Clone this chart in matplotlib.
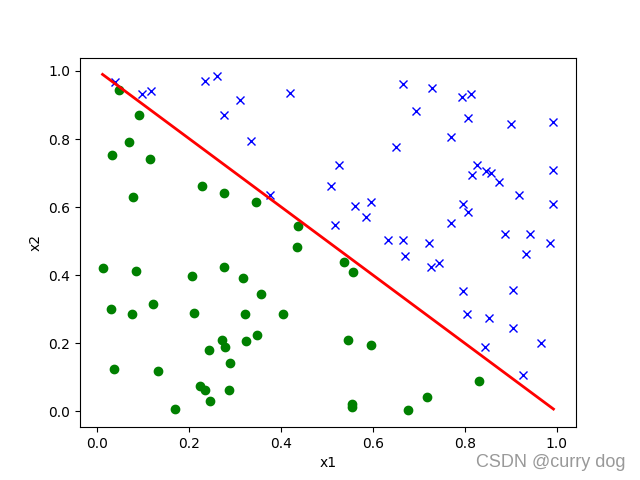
import matplotlib
matplotlib.use("Agg")
from matplotlib import pyplot as plt

# class 1 (blue crosses)
pos_x1 = [0.040, 0.097, 0.117, 0.234, 0.260, 0.310, 0.276, 0.336, 0.419, 0.665,
          0.376, 0.651, 0.527, 0.508, 0.562, 0.597, 0.586, 0.517, 0.634, 0.665,
          0.729, 0.795, 0.813, 0.695, 0.808, 0.900, 0.993, 0.771, 0.826, 0.816,
          0.847, 0.858, 0.875, 0.993, 0.919, 0.797, 0.806, 0.993, 0.771, 0.887,
          0.941, 0.986, 0.723, 0.934, 0.727, 0.743, 0.797, 0.906, 0.804, 0.853,
          0.906, 0.965, 0.845, 0.927, 0.669]
pos_x2 = [0.967, 0.933, 0.940, 0.970, 0.984, 0.914, 0.870, 0.795, 0.935, 0.962,
          0.635, 0.776, 0.723, 0.662, 0.603, 0.615, 0.571, 0.548, 0.504, 0.504,
          0.949, 0.923, 0.933, 0.882, 0.861, 0.845, 0.850, 0.807, 0.725, 0.694,
          0.706, 0.699, 0.675, 0.708, 0.635, 0.610, 0.586, 0.610, 0.554, 0.521,
          0.521, 0.493, 0.495, 0.462, 0.424, 0.435, 0.353, 0.357, 0.284, 0.274,
          0.243, 0.201, 0.187, 0.106, 0.455]

# class 0 (green dots)
neg_x1 = [0.047, 0.091, 0.069, 0.032, 0.115, 0.228, 0.277, 0.078, 0.345, 0.437,
          0.435, 0.014, 0.084, 0.206, 0.277, 0.317, 0.030, 0.075, 0.121, 0.212,
          0.321, 0.271, 0.279, 0.243, 0.325, 0.289, 0.037, 0.132, 0.223, 0.234,
          0.287, 0.245, 0.169, 0.537, 0.556, 0.356, 0.404, 0.347, 0.545, 0.595,
          0.554, 0.554, 0.677, 0.830, 0.717]
neg_x2 = [0.945, 0.870, 0.791, 0.753, 0.741, 0.662, 0.641, 0.630, 0.616, 0.545,
          0.482, 0.421, 0.413, 0.398, 0.424, 0.392, 0.301, 0.284, 0.316, 0.287,
          0.284, 0.208, 0.187, 0.179, 0.205, 0.140, 0.123, 0.119, 0.073, 0.062,
          0.061, 0.031, 0.005, 0.439, 0.410, 0.345, 0.284, 0.225, 0.208, 0.193,
          0.021, 0.011, 0.002, 0.087, 0.040]

# decision boundary
line_x = [0.012, 0.993]
line_y = [0.990, 0.006]

fig = plt.figure(figsize=(6.4, 4.8), dpi=100)
plt.plot(neg_x1, neg_x2, 'go')
plt.plot(pos_x1, pos_x2, 'bx')
plt.plot(line_x, line_y, color='red', linewidth=2)
plt.xlabel('x1')
plt.ylabel('x2')

# watermark
fig.text(0.977, 0.028, 'CSDN @curry dog', ha='right', va='baseline',
         fontsize=13, family='Liberation Sans', color='#999999')

plt.savefig('out.png')
